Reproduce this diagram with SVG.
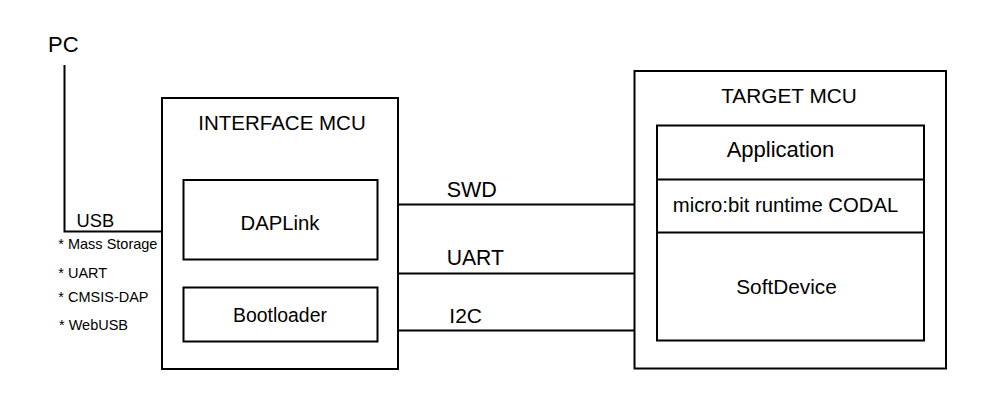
<svg xmlns="http://www.w3.org/2000/svg" width="1000" height="400" viewBox="0 0 1000 400">
<style>
.box{fill:none;stroke:#000;stroke-width:2}
.ln{fill:none;stroke:#000;stroke-width:2}
text{font-family:"Liberation Sans",Arial,sans-serif;fill:#000}
.c{text-anchor:middle}
.s{font-size:14.5px}
</style>
<rect x="0" y="0" width="1000" height="400" fill="#fff"/>
<g id="pc">
<text x="48" y="52" font-size="22">PC</text>
</g>
<g id="interface-mcu">
<rect class="box" x="162" y="98" width="236" height="271"/>
<text class="c" x="282" y="130" font-size="20.5">INTERFACE MCU</text>
</g>
<g id="daplink">
<rect class="box" x="183.5" y="180" width="194" height="79.5"/>
<text class="c" x="280" y="230" font-size="20.3">DAPLink</text>
</g>
<g id="bootloader">
<rect class="box" x="183.5" y="287.5" width="194" height="54"/>
<text class="c" x="280" y="321.5" font-size="19.4">Bootloader</text>
</g>
<g id="target-mcu">
<rect class="box" x="634.5" y="71" width="311.5" height="297.5"/>
<text class="c" x="789" y="102.5" font-size="20.8">TARGET MCU</text>
</g>
<g id="target-stack">
<rect class="box" x="657" y="125.5" width="267" height="215"/>
<line class="ln" x1="657" y1="179.5" x2="924" y2="179.5"/>
<line class="ln" x1="657" y1="232.5" x2="924" y2="232.5"/>
<text class="c" x="780.5" y="157" font-size="22">Application</text>
<text class="c" x="785.5" y="211.5" font-size="20.3">micro:bit runtime CODAL</text>
<text class="c" x="786.5" y="294" font-size="20.8">SoftDevice</text>
</g>
<g id="connectors">
<polyline class="ln" points="64.5,65 64.5,231.5 162,231.5"/>
<line class="ln" x1="398" y1="204.5" x2="634.5" y2="204.5"/>
<line class="ln" x1="398" y1="273.5" x2="634.5" y2="273.5"/>
<line class="ln" x1="398" y1="330.5" x2="634.5" y2="330.5"/>
</g>
<g id="labels">
<text x="76.5" y="227.3" font-size="18.3">USB</text>
<text class="s" x="58.3" y="249.3">* Mass Storage</text>
<text class="s" x="58.3" y="278">* UART</text>
<text class="s" x="58.3" y="301.7">* CMSIS-DAP</text>
<text class="s" x="59" y="330">* WebUSB</text>
<text x="446.7" y="196.5" font-size="21.5">SWD</text>
<text x="446.7" y="265" font-size="21.2">UART</text>
<text x="449.3" y="323.3" font-size="21">I2C</text>
</g>
</svg>
